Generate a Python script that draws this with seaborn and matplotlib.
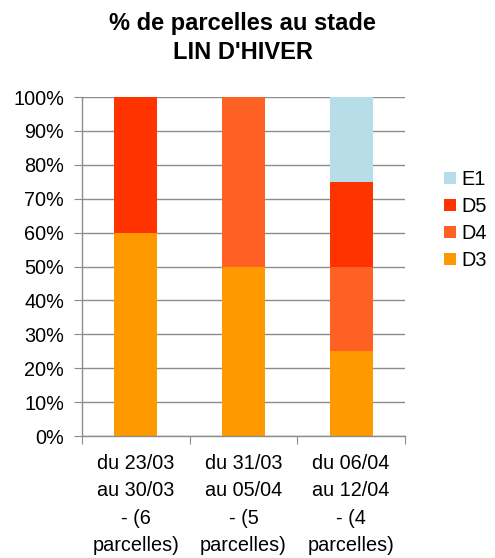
import matplotlib.pyplot as plt
import numpy as np
import pandas as pd
import seaborn as sns

periods = ['du 23/03\nau 30/03\n- (6\nparcelles)',
           'du 31/03\nau 05/04\n- (5\nparcelles)',
           'du 06/04\nau 12/04\n- (4\nparcelles)']
stades = ['D3', 'D4', 'D5', 'E1']
d3 = [60, 50, 25]
d4 = [0, 50, 25]
d5 = [40, 0, 25]
e1 = [0, 0, 25]
couleurs = ['#FF9900', '#FF6124', '#FF3300', '#B7DEE8']

sns.set_style('white')
plt.rcParams['font.family'] = ['Liberation Sans', 'DejaVu Sans']
plt.rcParams['text.color'] = 'black'
plt.rcParams['xtick.labelcolor'] = 'black'
plt.rcParams['ytick.labelcolor'] = 'black'

df = pd.DataFrame({'periode': periods, 'D3': d3, 'D4': d4, 'D5': d5, 'E1': e1})

fig = plt.figure(figsize=(4.95, 5.58), dpi=100)
ax = fig.add_axes([0.1657, 0.2186, 0.6523, 0.6075])

bottom = np.zeros(len(periods))
for st, col in zip(stades, couleurs):
    sns.barplot(data=df, x='periode', y=st, color=col, width=0.4,
                bottom=bottom, label=st, ax=ax, saturation=1, linewidth=0)
    bottom = bottom + df[st].values

fs = 14.3
ax.set_ylim(0, 100)
ax.set_xlim(-0.5, 2.5)
ax.set_yticks(range(0, 101, 10))
ax.set_yticklabels([f'{v}%' for v in range(0, 101, 10)], fontsize=fs)
ax.yaxis.grid(True, color='#8C8C8C', linewidth=1)
ax.set_axisbelow(True)
ax.set_xlabel('')
ax.set_ylabel('')

ax.set_xticks([-0.5, 0.5, 1.5, 2.5], minor=False)
ax.set_xticklabels([])
ax.set_xticks([0, 1, 2], minor=True)
ax.set_xticklabels(periods, minor=True, fontsize=fs, linespacing=1.55)
ax.tick_params(axis='x', which='minor', length=0, pad=13)
ax.tick_params(axis='x', which='major', length=6, color='#8C8C8C', direction='out', bottom=True)
ax.tick_params(axis='y', length=6, color='#8C8C8C', direction='out', left=True, pad=7)

for s in ['top', 'right']:
    ax.spines[s].set_visible(False)
for s in ['left', 'bottom']:
    ax.spines[s].set_color('#8C8C8C')
    ax.spines[s].set_linewidth(1)

handles, labels = ax.get_legend_handles_labels()
ax.legend(handles[::-1], labels[::-1], loc='center left', bbox_to_anchor=(1.09, 0.637),
          frameon=False, fontsize=fs, handlelength=0.6, handleheight=0.6,
          handletextpad=0.3, labelspacing=0.4, borderpad=0)

fig.suptitle("% de parcelles au stade\nLIN D'HIVER", fontsize=17, fontweight='bold',
             x=0.49, y=0.978, linespacing=1.3)

plt.savefig('out.png', dpi=100)
